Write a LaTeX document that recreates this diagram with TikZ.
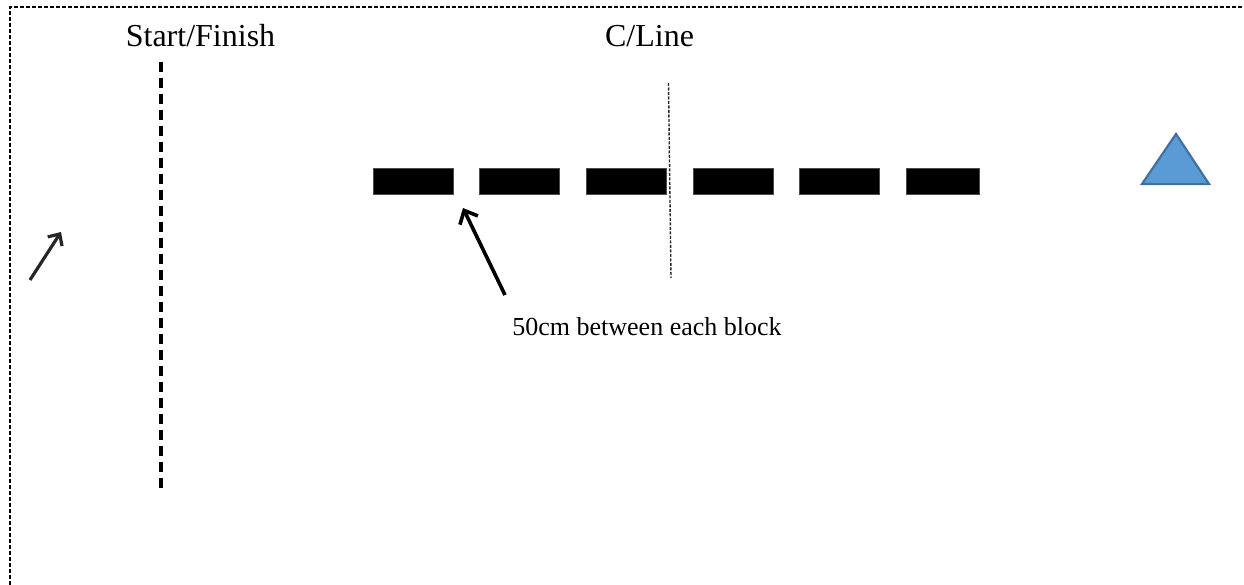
\documentclass[tikz,border=0pt]{standalone}
\usepackage{fontspec}
\setmainfont{Liberation Serif}
\usetikzlibrary{arrows.meta}
\definecolor{conefill}{RGB}{91,155,213}
\definecolor{coneedge}{RGB}{65,113,156}
\begin{document}
\begin{tikzpicture}[x=1pt,y=-1pt,
  block/.style={fill=black,draw=black!70,line width=0.8pt},
  biglabel/.style={anchor=base,inner sep=0pt,font=\fontsize{32}{36}\selectfont},
  smalllabel/.style={anchor=base,inner sep=0pt,font=\fontsize{26}{30}\selectfont},
  pointer/.style={line width=3.6pt,-{Straight Barb[length=11pt,width=20pt,line width=3.6pt]}}
]
\useasboundingbox (0,0) rectangle (1244,585);
% field border (top and left edges)
\draw[line width=1.3pt,dash pattern=on 4pt off 2pt] (10,585) -- (10,7) -- (1244,7);

% labels
\node[biglabel] (sf) at (200.5,47) {Start/Finish};
\node[biglabel] (cl) at (649.5,47) {C/Line};
\node[smalllabel] (gap) at (647,335) {50cm between each block};

% start/finish line
\coordinate (sftop) at (161,62);
\coordinate (sfbot) at (161,492);
\draw[line width=4.5pt,dash pattern=on 10pt off 6pt] (sftop) -- (sfbot);

% centre line
\coordinate (cltop) at (668.5,83);
\coordinate (clbot) at (671,278);
\draw[line width=1.4pt,black!85,dash pattern=on 3pt off 1.5pt] (cltop) -- (clbot);

% blocks
\foreach \i/\a/\b in {1/373/453,2/479/559,3/586/666,4/693/773,5/799/879,6/906/979}
  \node[block,inner sep=0pt,minimum width=\b pt-\a pt,minimum height=26pt] (b\i) at ({(\a+\b)/2},181) {};

% gap pointer
\coordinate (ptail) at (505,295);
\coordinate (ptip) at (463,208);
\draw[pointer] (ptail) -- (ptip);

% direction arrow
\coordinate (dtail) at (30,280);
\coordinate (dtip) at (61,232);
\draw[line width=3.2pt,black!85,-{Straight Barb[length=9pt,width=17pt,line width=3.2pt]}] (dtail) -- (dtip);

% cone
\draw[fill=conefill,draw=coneedge,line width=2.2pt,line join=miter]
  (1176,134) -- (1209,184) -- (1142,184) -- cycle;
\end{tikzpicture}
\end{document}
